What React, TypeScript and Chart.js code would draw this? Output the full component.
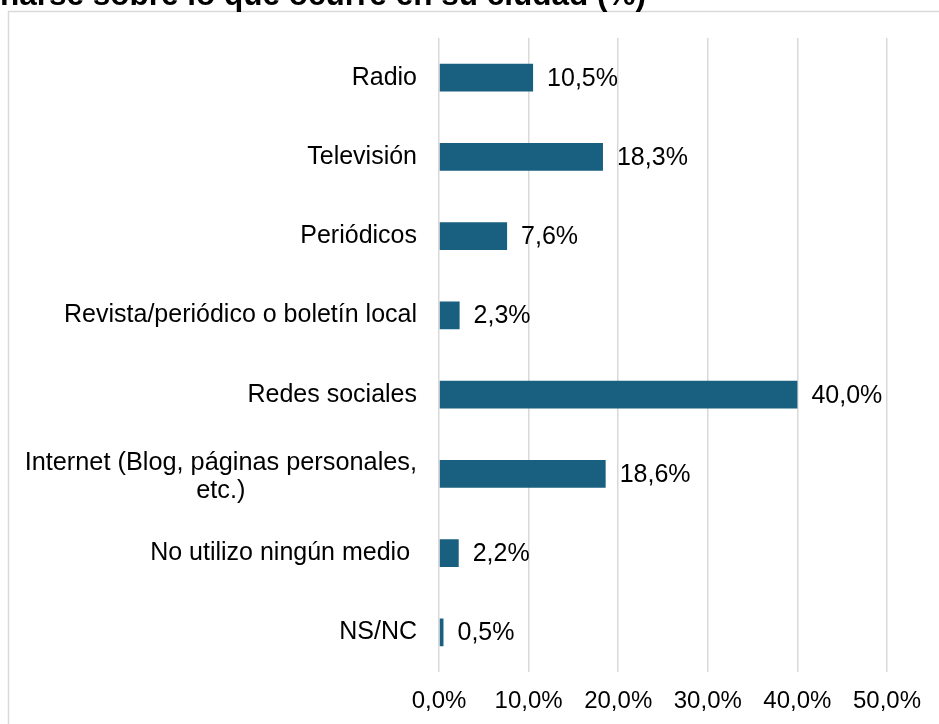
import React, { useEffect, useRef } from "react";
import { Chart, registerables } from "chart.js";

Chart.register(...registerables);

const titleText = "narse sobre lo que ocurre en su ciudad (%)";
const categories: (string | string[])[] = [
  "Radio",
  "Televisión",
  "Periódicos",
  "Revista/periódico o boletín local",
  "Redes sociales",
  ["Internet (Blog, páginas personales,", "etc.)"],
  "No utilizo ningún medio ",
  "NS/NC",
];
const values = [10.5, 18.3, 7.6, 2.3, 40.0, 18.6, 2.2, 0.5];
const xTicks = [0, 10, 20, 30, 40, 50];

const FONT = "Liberation Sans, Arial, sans-serif";
const fmt = (v: number) => v.toFixed(1).replace(".", ",") + "%";

const decorPlugin = {
  id: "decor",
  beforeDraw(chart: any) {
    const ctx = chart.ctx;
    ctx.save();
    ctx.strokeStyle = "#d9d9d9";
    ctx.lineWidth = 1.5;
    ctx.strokeRect(8.5, 11.5, 1000, 1000);
    ctx.fillStyle = "#000";
    ctx.font = `bold 31.5px ${FONT}`;
    ctx.textAlign = "left";
    ctx.textBaseline = "alphabetic";
    ctx.fillText(titleText, 0, 5);
    ctx.restore();
  },
  afterDatasetsDraw(chart: any) {
    const ctx = chart.ctx;
    const meta = chart.getDatasetMeta(0);
    const yScale = chart.scales.y;
    ctx.save();
    ctx.font = `25px ${FONT}`;
    ctx.fillStyle = "#000";
    ctx.textBaseline = "middle";
    meta.data.forEach((bar: any, i: number) => {
      ctx.textAlign = "left";
      ctx.fillText(fmt(values[i]), bar.x + 14, bar.y + 1);
    });
    const rightEdge = chart.chartArea.left - 22;
    categories.forEach((c, i) => {
      const y = yScale.getPixelForTick(i);
      if (Array.isArray(c)) {
        ctx.font = `25.3px ${FONT}`;
        const widths = c.map((s) => ctx.measureText(s).width);
        const w = Math.max(...widths);
        const cx = rightEdge - w / 2;
        const lh = 28;
        ctx.textAlign = "center";
        c.forEach((s, k) => {
          ctx.fillText(s, cx, y + 3 + (k - (c.length - 1) / 2) * lh);
        });
        ctx.font = `25px ${FONT}`;
      } else {
        ctx.textAlign = "right";
        ctx.fillText(c, rightEdge, y);
      }
    });
    ctx.restore();
  },
};

export default function App() {
  const ref = useRef<HTMLCanvasElement>(null);
  useEffect(() => {
    if (!ref.current) return;
    const chart = new Chart(ref.current, {
      type: "bar",
      data: {
        labels: categories,
        datasets: [
          {
            data: values,
            backgroundColor: "#185f80",
            barPercentage: 0.35,
            categoryPercentage: 1,
          },
        ],
      },
      options: {
        indexAxis: "y",
        animation: false,
        responsive: false,
        maintainAspectRatio: false,
        layout: { padding: { top: 38, right: 52, left: 0, bottom: 0 } },
        plugins: {
          legend: { display: false },
          tooltip: { enabled: false },
          title: { display: false },
        },
        scales: {
          y: {
            ticks: { display: false },
            grid: { display: false },
            border: { display: false },
            afterFit: (s: any) => {
              s.width = 439;
            },
          },
          x: {
            min: 0,
            max: 50,
            afterBuildTicks: (s: any) => {
              s.ticks = xTicks.map((v) => ({ value: v }));
            },
            ticks: {
              callback: (v: any) => fmt(Number(v)),
              font: { size: 24, family: FONT },
              color: "#000",
              padding: 15,
              maxRotation: 0,
            },
            grid: { color: "#d9d9d9", lineWidth: 1.5, drawTicks: false },
            border: { display: false },
            afterFit: (s: any) => {
              s.height = 52;
            },
          },
        },
      },
      plugins: [decorPlugin],
    });
    return () => chart.destroy();
  }, []);
  return (
    <div style={{ position: "absolute", left: 0, top: 0, width: 939, height: 724, background: "#fff" }}>
      <canvas ref={ref} width={939} height={724} style={{ width: 939, height: 724 }} />
    </div>
  );
}
